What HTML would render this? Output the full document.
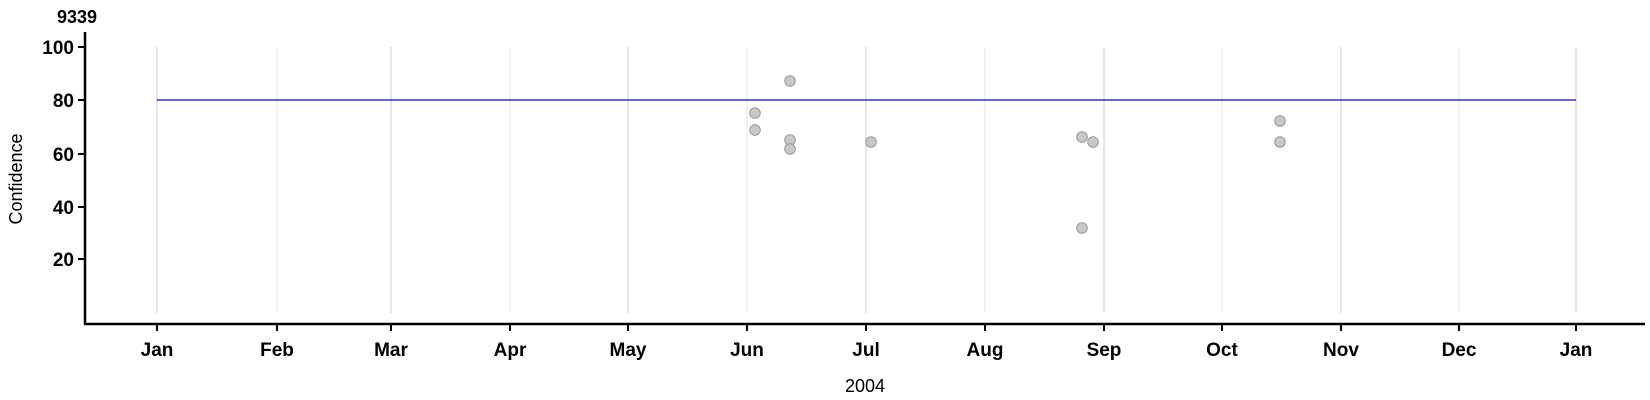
<!DOCTYPE html>
<html><head><style>body{margin:0;background:#fff}svg{display:block}</style></head><body>
<svg width="1650" height="400" xmlns="http://www.w3.org/2000/svg" font-family="Liberation Sans, sans-serif">
<g stroke-width="1">
<line x1="157" y1="47" x2="157" y2="313" stroke="#ccc"/>
<line x1="277" y1="47" x2="277" y2="313" stroke="#e6e6e6"/>
<line x1="391" y1="47" x2="391" y2="313" stroke="#ccc"/>
<line x1="510" y1="47" x2="510" y2="313" stroke="#e6e6e6"/>
<line x1="628" y1="47" x2="628" y2="313" stroke="#ccc"/>
<line x1="747" y1="47" x2="747" y2="313" stroke="#e6e6e6"/>
<line x1="866" y1="47" x2="866" y2="313" stroke="#ccc"/>
<line x1="985" y1="47" x2="985" y2="313" stroke="#e6e6e6"/>
<line x1="1104" y1="47" x2="1104" y2="313" stroke="#ccc"/>
<line x1="1222" y1="47" x2="1222" y2="313" stroke="#e6e6e6"/>
<line x1="1341" y1="47" x2="1341" y2="313" stroke="#ccc"/>
<line x1="1459" y1="47" x2="1459" y2="313" stroke="#e6e6e6"/>
<line x1="1576" y1="47" x2="1576" y2="313" stroke="#ccc"/>
</g>
<line x1="157" y1="100" x2="1576" y2="100" stroke="#00f" stroke-width="1.2"/>
<g fill="#c8c8c8" stroke="#999" stroke-width="1">
<circle cx="755" cy="113" r="5.3"/><circle cx="755" cy="130" r="5.3"/>
<circle cx="790" cy="81" r="5.3"/><circle cx="790" cy="140" r="5.3"/><circle cx="790" cy="149" r="5.3"/>
<circle cx="871" cy="142" r="5.3"/>
<circle cx="1082" cy="137" r="5.3"/><circle cx="1093" cy="142" r="5.3"/><circle cx="1082" cy="228" r="5.3"/>
<circle cx="1280" cy="121" r="5.3"/><circle cx="1280" cy="142" r="5.3"/>
</g>
<g stroke="#000" stroke-width="2.5">
<line x1="85" y1="32" x2="85" y2="325"/>
<line x1="84" y1="324" x2="1645" y2="324"/>
</g>
<g stroke="#000" stroke-width="2">
<line x1="78" y1="47" x2="85" y2="47"/><line x1="78" y1="100" x2="85" y2="100"/><line x1="78" y1="154" x2="85" y2="154"/><line x1="78" y1="207" x2="85" y2="207"/><line x1="78" y1="259" x2="85" y2="259"/>
<line x1="157" y1="324" x2="157" y2="331"/><line x1="277" y1="324" x2="277" y2="331"/><line x1="391" y1="324" x2="391" y2="331"/><line x1="510" y1="324" x2="510" y2="331"/><line x1="628" y1="324" x2="628" y2="331"/><line x1="747" y1="324" x2="747" y2="331"/><line x1="866" y1="324" x2="866" y2="331"/><line x1="985" y1="324" x2="985" y2="331"/><line x1="1104" y1="324" x2="1104" y2="331"/><line x1="1222" y1="324" x2="1222" y2="331"/><line x1="1341" y1="324" x2="1341" y2="331"/><line x1="1459" y1="324" x2="1459" y2="331"/><line x1="1576" y1="324" x2="1576" y2="331"/>
</g>
<g font-size="19" font-weight="bold" text-anchor="end">
<text x="74" y="54">100</text><text x="74" y="107">80</text><text x="74" y="161">60</text><text x="74" y="214">40</text><text x="74" y="266">20</text>
</g>
<g font-size="19" font-weight="bold" text-anchor="middle">
<text x="157" y="356">Jan</text><text x="277" y="356">Feb</text><text x="391" y="356">Mar</text><text x="510" y="356">Apr</text><text x="628" y="356">May</text><text x="747" y="356">Jun</text><text x="866" y="356">Jul</text><text x="985" y="356">Aug</text><text x="1104" y="356">Sep</text><text x="1222" y="356">Oct</text><text x="1341" y="356">Nov</text><text x="1459" y="356">Dec</text><text x="1576" y="356">Jan</text>
</g>
<text x="57" y="23" font-size="18" font-weight="bold">9339</text>
<text x="865" y="392" font-size="18" text-anchor="middle">2004</text>
<text transform="translate(22,179) rotate(-90)" font-size="18" text-anchor="middle">Confidence</text>
</svg>
</body></html>
